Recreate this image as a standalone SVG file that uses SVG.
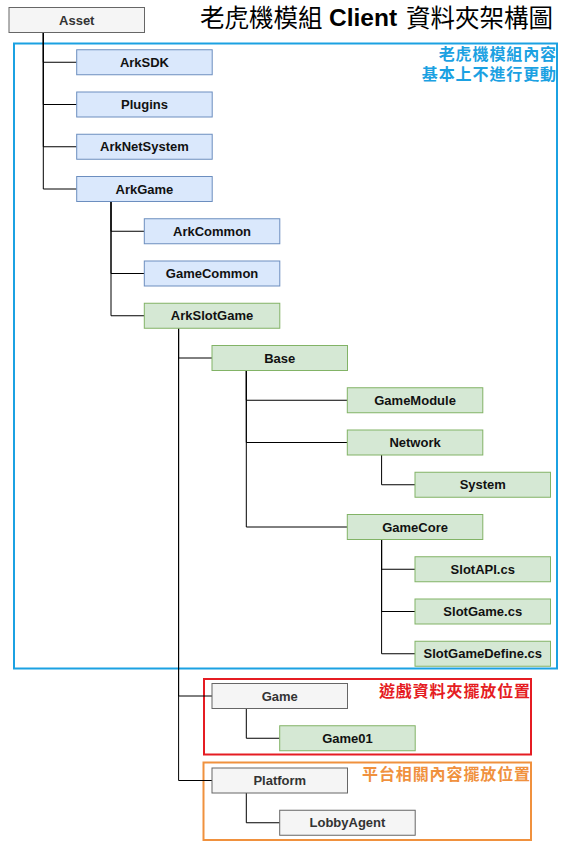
<svg xmlns="http://www.w3.org/2000/svg" width="564" height="845" viewBox="0 0 564 845">
<style>
.n rect{stroke-width:1}
.gray rect{fill:#f5f5f5;stroke:#666}
.blue rect{fill:#dae8fc;stroke:#6c8ebf}
.green rect{fill:#d5e8d4;stroke:#82b366}
.n text{font-family:"Liberation Sans",Arial,sans-serif;font-weight:bold;font-size:13px;text-anchor:middle;fill:#111}
.gray text{fill:#333}
#edges path{fill:none;stroke:#000;stroke-width:1}
.cjk{font-family:"Noto Sans CJK TC","Noto Sans CJK SC",sans-serif}
.lbl{font-weight:bold;font-size:16px;letter-spacing:0.9px;text-anchor:end}
</style>
<rect width="564" height="845" fill="#fff"/>
<g id="title">
<text font-size="24.5" fill="#000"><tspan x="200" y="27" class="cjk">老虎機模組</tspan><tspan x="329" y="25.5" font-family="Liberation Sans,Arial,sans-serif" font-weight="bold">Client</tspan><tspan x="406" y="27" class="cjk">資料夾架構圖</tspan></text>
</g>
<g id="groups">
<rect x="14" y="43.5" width="543" height="625" fill="none" stroke="#1ba1e2" stroke-width="2"/>
<text class="cjk lbl" fill="#1ba1e2"><tspan x="557" y="60">老虎機模組內容</tspan><tspan x="557" y="80">基本上不進行更動</tspan></text>
<rect x="204" y="679" width="327" height="75.5" fill="none" stroke="#e51c23" stroke-width="2"/>
<text class="cjk lbl" x="531" y="697" fill="#e51c23">遊戲資料夾擺放位置</text>
<rect x="203.5" y="762.5" width="327.5" height="77.5" fill="none" stroke="#f0913e" stroke-width="2"/>
<text class="cjk lbl" x="531" y="780" fill="#f0913e">平台相關內容擺放位置</text>
</g>
<g id="edges">
<path d="M43.3 32.5V62.25H76.7"/>
<path d="M43.3 32.5V104.5H76.7"/>
<path d="M43.3 32.5V146.75H76.7"/>
<path d="M43.3 32.5V189H76.7"/>
<path d="M111 201.5V231.25H144.3"/>
<path d="M111 201.5V273.5H144.3"/>
<path d="M111 201.5V315.75H144.3"/>
<path d="M178.6 328.25V358H212"/>
<path d="M178.6 328.25V696H212"/>
<path d="M178.6 328.25V780.5H212"/>
<path d="M246.3 370.5V400.25H347.3"/>
<path d="M246.3 370.5V442.5H347.3"/>
<path d="M246.3 370.5V527H347.3"/>
<path d="M381.6 455V484.75H415"/>
<path d="M381.6 539.5V569.25H415"/>
<path d="M381.6 539.5V611.5H415"/>
<path d="M381.6 539.5V653.75H415"/>
<path d="M246.3 708.5V738.25H279.7"/>
<path d="M246.3 793V822.75H279.7"/>
</g>
<g id="n-asset" class="n gray"><rect x="9" y="7.5" width="135.5" height="25"/><text x="76.75" y="24.5">Asset</text></g>
<g id="n-arksdk" class="n blue"><rect x="76.7" y="49.75" width="135.5" height="25"/><text x="144.45" y="66.75">ArkSDK</text></g>
<g id="n-plugins" class="n blue"><rect x="76.7" y="92" width="135.5" height="25"/><text x="144.45" y="109">Plugins</text></g>
<g id="n-arknetsystem" class="n blue"><rect x="76.7" y="134.25" width="135.5" height="25"/><text x="144.45" y="151.25">ArkNetSystem</text></g>
<g id="n-arkgame" class="n blue"><rect x="76.7" y="176.5" width="135.5" height="25"/><text x="144.45" y="193.5">ArkGame</text></g>
<g id="n-arkcommon" class="n blue"><rect x="144.3" y="218.75" width="135.5" height="25"/><text x="212.05" y="235.75">ArkCommon</text></g>
<g id="n-gamecommon" class="n blue"><rect x="144.3" y="261" width="135.5" height="25"/><text x="212.05" y="278">GameCommon</text></g>
<g id="n-arkslotgame" class="n green"><rect x="144.3" y="303.25" width="135.5" height="25"/><text x="212.05" y="320.25">ArkSlotGame</text></g>
<g id="n-base" class="n green"><rect x="212" y="345.5" width="135.5" height="25"/><text x="279.75" y="362.5">Base</text></g>
<g id="n-gamemodule" class="n green"><rect x="347.3" y="387.75" width="135.5" height="25"/><text x="415.05" y="404.75">GameModule</text></g>
<g id="n-network" class="n green"><rect x="347.3" y="430" width="135.5" height="25"/><text x="415.05" y="447">Network</text></g>
<g id="n-system" class="n green"><rect x="415" y="472.25" width="135.5" height="25"/><text x="482.75" y="489.25">System</text></g>
<g id="n-gamecore" class="n green"><rect x="347.3" y="514.5" width="135.5" height="25"/><text x="415.05" y="531.5">GameCore</text></g>
<g id="n-slotapi" class="n green"><rect x="415" y="556.75" width="135.5" height="25"/><text x="482.75" y="573.75">SlotAPI.cs</text></g>
<g id="n-slotgame" class="n green"><rect x="415" y="599" width="135.5" height="25"/><text x="482.75" y="616">SlotGame.cs</text></g>
<g id="n-slotgamedefine" class="n green"><rect x="415" y="641.25" width="135.5" height="25"/><text x="482.75" y="658.25">SlotGameDefine.cs</text></g>
<g id="n-game" class="n gray"><rect x="212" y="683.5" width="135.5" height="25"/><text x="279.75" y="700.5">Game</text></g>
<g id="n-game01" class="n green"><rect x="279.7" y="725.75" width="135.5" height="25"/><text x="347.45" y="742.75">Game01</text></g>
<g id="n-platform" class="n gray"><rect x="212" y="768" width="135.5" height="25"/><text x="279.75" y="785">Platform</text></g>
<g id="n-lobbyagent" class="n gray"><rect x="279.7" y="810.25" width="135.5" height="25"/><text x="347.45" y="827.25">LobbyAgent</text></g>
</svg>
